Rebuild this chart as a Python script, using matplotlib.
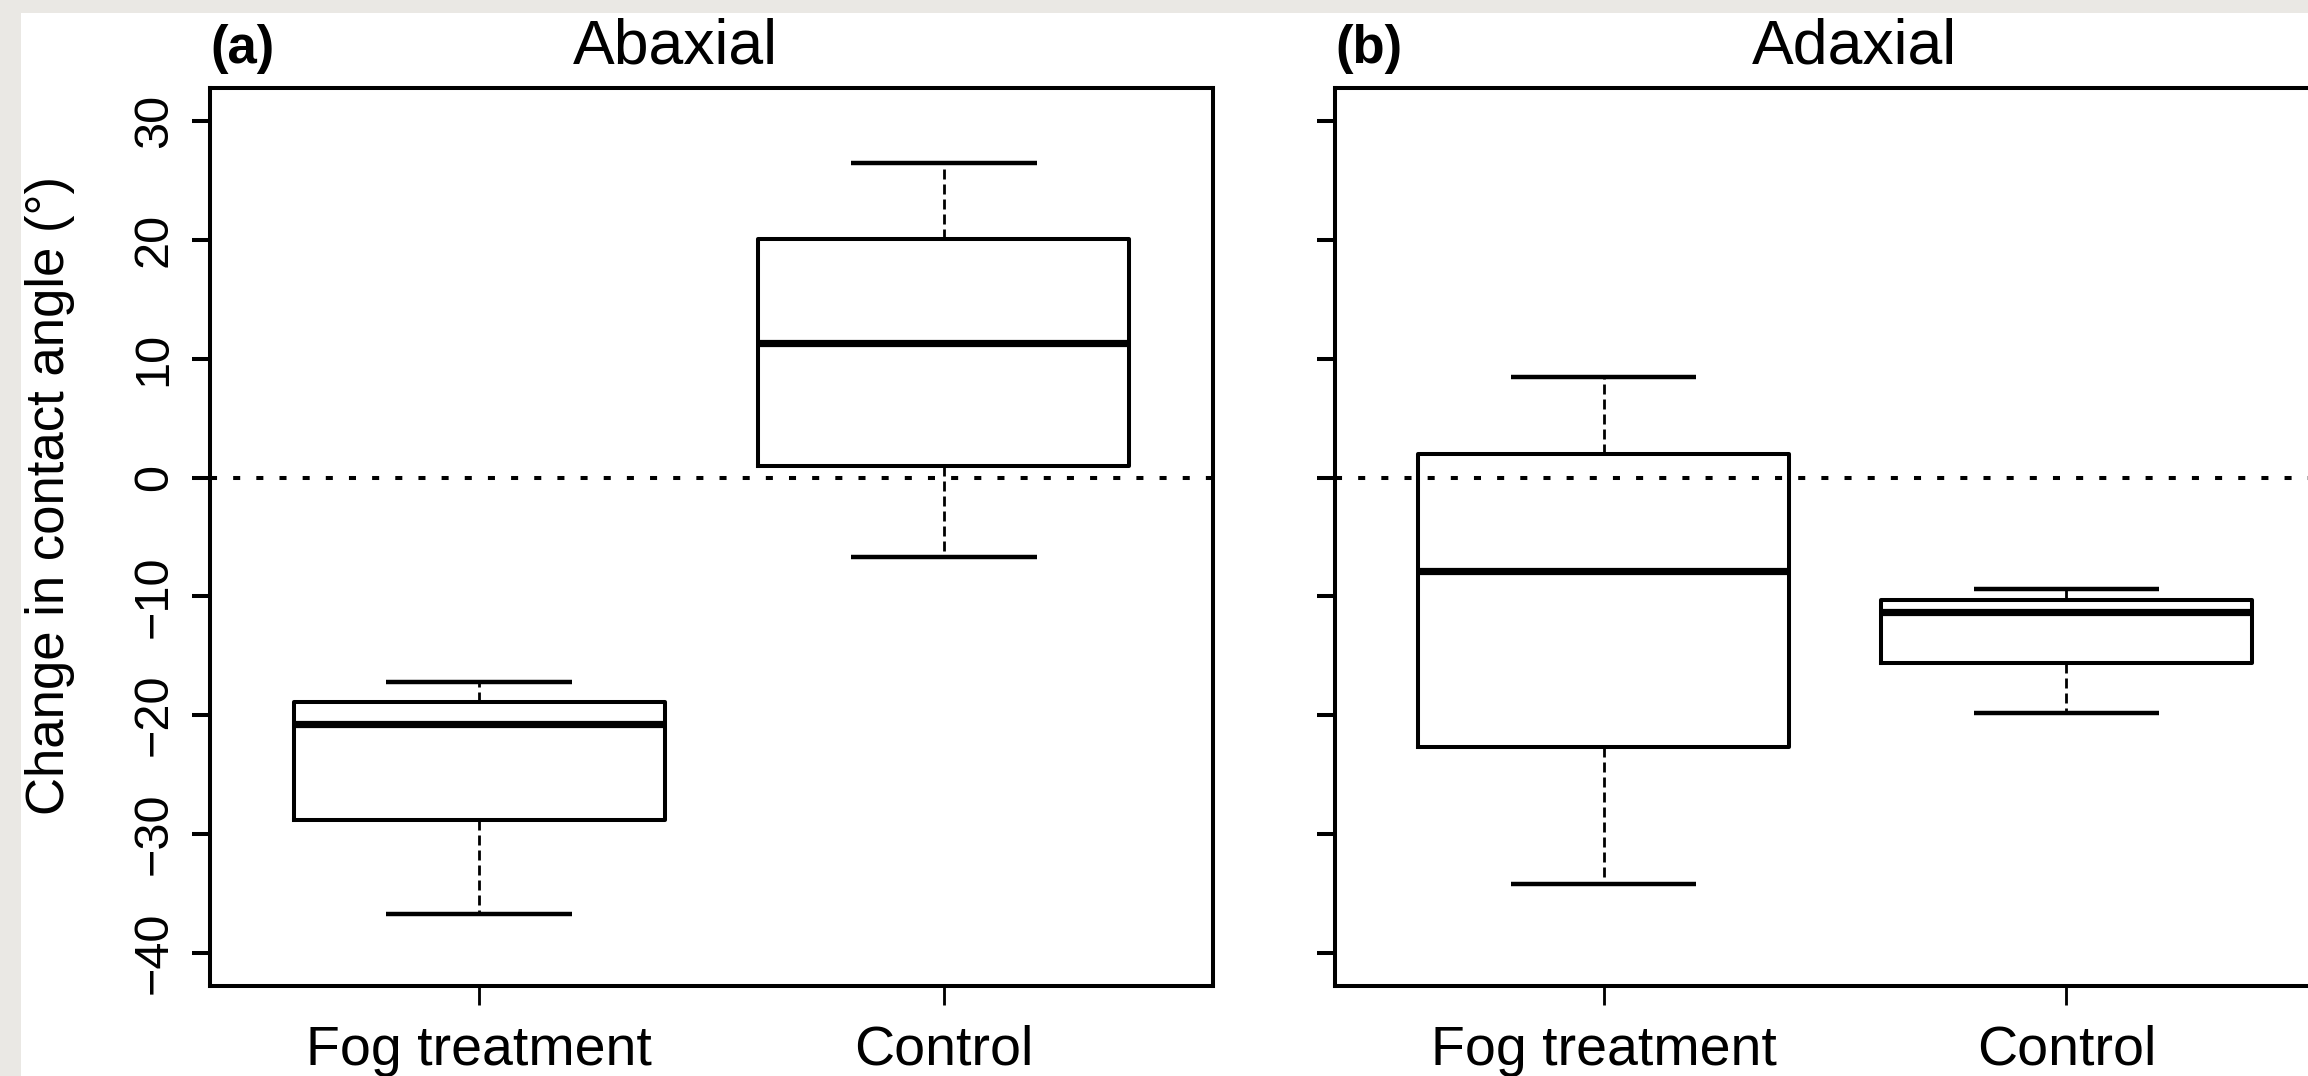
import matplotlib
matplotlib.use("Agg")
from matplotlib import pyplot as plt
from matplotlib.patches import Rectangle

plt.rcParams['font.family'] = ['Liberation Sans', 'DejaVu Sans']

groups = ['Fog treatment', 'Control']
panels = ['Abaxial', 'Adaxial']
letters = ['(a)', '(b)']

# box summaries: lower whisker, Q1, median, Q3, upper whisker
abaxial_lo = [-36.7, -6.7]
abaxial_q1 = [-28.8, 1.0]
abaxial_med = [-20.75, 11.35]
abaxial_q3 = [-18.9, 20.1]
abaxial_hi = [-17.2, 26.5]

adaxial_lo = [-34.2, -19.8]
adaxial_q1 = [-22.7, -15.6]
adaxial_med = [-7.9, -11.3]
adaxial_q3 = [2.0, -10.3]
adaxial_hi = [8.5, -9.4]

yticks = [-40, -30, -20, -10, 0, 10, 20, 30]

W, H = 2308, 1076
fig = plt.figure(figsize=(W / 100, H / 100), dpi=100)
fig.patch.set_facecolor('white')

# paper strip along top and left edge
paper = '#eae8e4'
fig.add_artist(Rectangle((0, 1 - 13 / H), 1, 13 / H, transform=fig.transFigure,
                         facecolor=paper, edgecolor='none', zorder=0))
fig.add_artist(Rectangle((0, 0), 21 / W, 1, transform=fig.transFigure,
                         facecolor=paper, edgecolor='none', zorder=0))


def make_stats(lo, q1, med, q3, hi):
    out = []
    for i, g in enumerate(groups):
        out.append(dict(whislo=lo[i], q1=q1[i], med=med[i], q3=q3[i],
                        whishi=hi[i], fliers=[], label=g))
    return out


stats = [make_stats(abaxial_lo, abaxial_q1, abaxial_med, abaxial_q3, abaxial_hi),
         make_stats(adaxial_lo, adaxial_q1, adaxial_med, adaxial_q3, adaxial_hi)]

top, bottom = 88, 986
lefts = [210, 1335]
widths = [1003, 1000]
title_x = [675, 1854]

lw = 2.9
for k in range(2):
    ax = fig.add_axes([lefts[k] / W, (H - bottom) / H, widths[k] / W, (bottom - top) / H])
    ax.set_facecolor('white')
    ax.bxp(stats[k], positions=[1, 2], widths=0.8, capwidths=0.4, showfliers=False,
           boxprops=dict(color='black', lw=lw),
           medianprops=dict(color='black', lw=5.2, solid_capstyle='butt'),
           whiskerprops=dict(color='black', lw=2.0, linestyle=(0, (3.6, 1.8))),
           capprops=dict(color='black', lw=3.2, solid_capstyle='butt'))
    ax.axhline(0, color='black', lw=lw, linestyle=(0, (1.75, 4.0)), zorder=1)
    ax.set_xlim(0.42, 2.58)
    ax.set_ylim(-42.8, 32.8)
    ax.set_yticks(yticks)
    ax.set_xticks([1, 2])
    ax.set_xticklabels(groups, fontsize=40)
    for s in ax.spines.values():
        s.set_linewidth(lw)
    ax.tick_params(axis='y', direction='out', length=13, width=lw, pad=11)
    ax.tick_params(axis='x', direction='out', length=14, width=lw * 0.7, pad=14)
    if k == 0:
        ax.set_yticklabels([f'{v}'.replace('-', '\u2212') for v in yticks], fontsize=35)
        for lab in ax.get_yticklabels():
            lab.set_rotation(90)
            lab.set_va('center')
            lab.set_ha('right')
    else:
        ax.set_yticklabels([])
    fig.text(title_x[k] / W, 1 - 63 / H, panels[k], fontsize=45, ha='center', va='baseline')
    fig.text(lefts[k] / W, 1 - 63 / H, letters[k], fontsize=38, fontweight='bold',
             ha='left', va='baseline')

fig.text(50 / W, 1 - 496 / H, 'Change in contact angle (\u00b0)', fontsize=38,
         rotation=90, ha='center', va='center')

fig.savefig('out.png', dpi=100)
